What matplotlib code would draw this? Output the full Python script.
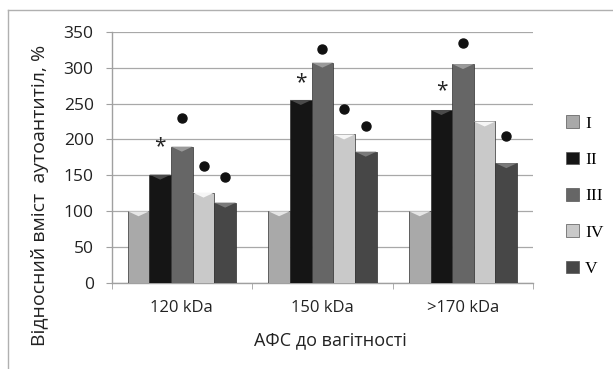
"""Relative autoantibody content by APS group (bar chart)."""

import matplotlib
matplotlib.use("Agg")
import matplotlib.pyplot as plt
from matplotlib.patches import Patch, Polygon
from matplotlib.lines import Line2D
import numpy as np

plt.rcParams["font.family"] = ["Open Sans", "DejaVu Sans"]

categories = ["120 kDa", "150 kDa", ">170 kDa"]
series = ["I", "II", "III", "IV", "V"]
values = {
    "I": [100, 100, 100],
    "II": [151, 255, 241],
    "III": [190, 307, 305],
    "IV": [126, 207, 225],
    "V": [112, 183, 167],
}
colors = {"I": "#a9a9a9", "II": "#151515", "III": "#666666",
          "IV": "#c9c9c9", "V": "#474747"}
cap_colors = {"I": "#e6e6e6", "II": "#4a4a4a", "III": "#9a9a9a",
              "IV": "#f6f6f6", "V": "#7a7a7a"}

# significance marks: (series, category index, y value)
asterisks = [("II", 0, 190), ("II", 1, 279), ("II", 2, 268)]
dots = [("III", 0, 230), ("IV", 0, 163), ("V", 0, 147),
        ("III", 1, 326), ("IV", 1, 243), ("V", 1, 219),
        ("III", 2, 335), ("V", 2, 205)]

fig = plt.figure(figsize=(6.13, 3.69), dpi=100)
ax = fig.add_axes([0.182, 0.233, 0.688, 0.681])

x = np.arange(len(categories))
width = 0.154
offsets = {s: (i - 2) * width for i, s in enumerate(series)}

for s in series:
    bars = ax.bar(x + offsets[s], values[s], width=width, color=colors[s],
                  edgecolor="#303030", linewidth=0.5, zorder=3)
    for b in bars:
        x0, w, h = b.get_x(), b.get_width(), b.get_height()
        cap = Polygon([[x0, h], [x0 + w, h], [x0 + w * 0.5, h - 7]],
                      closed=True, facecolor=cap_colors[s], edgecolor="none",
                      zorder=4)
        ax.add_patch(cap)

for s, i, y in asterisks:
    ax.text(x[i] + offsets[s], y, "*", ha="center", va="center",
            fontsize=15, color="#222222", zorder=5)
for s, i, y in dots:
    ax.plot(x[i] + offsets[s], y, "o", color="#111111", ms=6.5, zorder=5)

ax.set_xlim(-0.5, 2.5)
ax.set_ylim(0, 350)
ax.set_yticks(range(0, 351, 50))
ax.set_xticks(x)
ax.set_xticklabels(categories, fontsize=12, color="#222222")
ax.set_xticks([-0.5, 0.5, 1.5, 2.5], minor=True)
ax.tick_params(axis="x", which="major", length=0, pad=12)
ax.tick_params(axis="x", which="minor", length=4, color="#a0a0a0")
ax.tick_params(axis="y", length=4.3, color="#a0a0a0", labelsize=12.5,
               labelcolor="#222222", pad=8.6)
ax.grid(axis="y", color="#a8a8a8", lw=0.9, zorder=0)
for side in ["top", "right"]:
    ax.spines[side].set_visible(False)
for side in ["left", "bottom"]:
    ax.spines[side].set_color("#a0a0a0")
    ax.spines[side].set_linewidth(1.0)

ax.set_xlabel("АФС до вагітності", fontsize=13, color="#222222", va="center")
ax.xaxis.set_label_coords(0.518, -0.227)
ax.set_ylabel("Відносний вміст  аутоантитіл, %", fontsize=14,
              color="#222222", va="center")
ax.yaxis.set_label_coords(-0.17, 0.35)

handles = [Patch(facecolor=colors[s], edgecolor="#555555", linewidth=0.5)
           for s in series]
ax.legend(handles, series, loc="upper left", bbox_to_anchor=(1.04, 0.73),
          frameon=False, handlelength=0.75, handleheight=0.75,
          handletextpad=0.35, labelspacing=1.15,
          prop={"family": "Liberation Serif", "size": 12.5})

# chart area border (top and left visible)
fig.add_artist(Line2D([8 / 613, 1], [1 - 9.5 / 369] * 2, color="#b0b0b0",
                      lw=1.0))
fig.add_artist(Line2D([8 / 613] * 2, [0, 1 - 9.5 / 369], color="#b0b0b0",
                      lw=1.0))

fig.savefig("out.png", dpi=100)
plt.close(fig)
